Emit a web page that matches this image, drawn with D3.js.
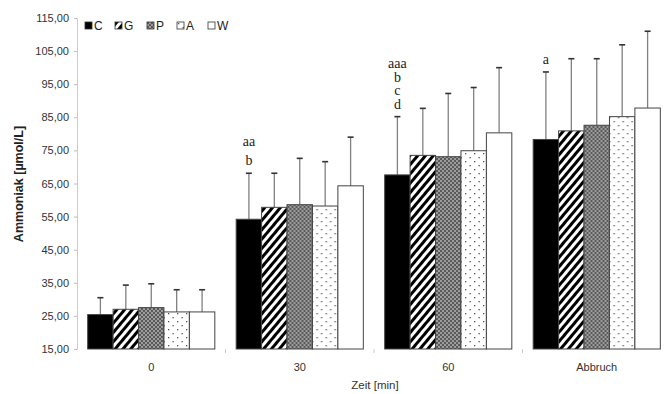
<!DOCTYPE html>
<html>
<head>
<meta charset="utf-8">
<script src="https://cdn.jsdelivr.net/npm/d3@7"></script>
<style>
  body { margin: 0; background: #fff; }
  svg { display: block; font-family: "Liberation Sans", Arial, sans-serif; }
</style>
</head>
<body>
<svg id="chart" width="669" height="394"></svg>
<script>
// data
var groups = ["0", "30", "60", "Abbruch"];
var series = ["C", "G", "P", "A", "W"];
var valC = [25.4, 54.2, 67.6, 78.3];
var valG = [27.0, 57.8, 73.5, 80.9];
var valP = [27.5, 58.6, 73.1, 82.6];
var valA = [26.2, 58.2, 74.9, 85.2];
var valW = [26.2, 64.3, 80.3, 87.8];
var errC = [30.5, 68.1, 85.2, 98.7];
var errG = [34.3, 68.1, 87.7, 102.7];
var errP = [34.7, 72.6, 92.2, 102.7];
var errA = [32.9, 71.6, 94.0, 106.9];
var errW = [32.9, 79.0, 100.0, 111.0];
var yTicks = [15, 25, 35, 45, 55, 65, 75, 85, 95, 105, 115];
// significance letters above the C bar
var notes = [[], ["aa", "b"], ["aaa", "b", "c", "d"], ["a"]];

var means = [valC, valG, valP, valA, valW];
var upper = [errC, errG, errP, errA, errW];

var svg = d3.select("#chart");
var defs = svg.append("defs");

// fill patterns
var stripes = defs.append("pattern").attr("id", "pat_G")
    .attr("patternUnits", "userSpaceOnUse")
    .attr("width", 6).attr("height", 6)
    .attr("patternTransform", "rotate(40)");
stripes.append("rect").attr("width", 6).attr("height", 6).attr("fill", "#fff");
stripes.append("rect").attr("width", 3).attr("height", 6).attr("fill", "#000");

var checker = defs.append("pattern").attr("id", "pat_P")
    .attr("patternUnits", "userSpaceOnUse")
    .attr("width", 4).attr("height", 4);
checker.append("rect").attr("width", 4).attr("height", 4).attr("fill", "#9c9c9c");
checker.append("rect").attr("width", 2).attr("height", 2).attr("fill", "#5a5a5a");
checker.append("rect").attr("x", 2).attr("y", 2).attr("width", 2).attr("height", 2).attr("fill", "#5a5a5a");

var dots = defs.append("pattern").attr("id", "pat_A")
    .attr("patternUnits", "userSpaceOnUse")
    .attr("width", 9).attr("height", 8);
dots.append("rect").attr("width", 9).attr("height", 8).attr("fill", "#fff");
dots.append("rect").attr("x", 1).attr("y", 1).attr("width", 1.3).attr("height", 1.3).attr("fill", "#555");
dots.append("rect").attr("x", 5.5).attr("y", 5).attr("width", 1.3).attr("height", 1.3).attr("fill", "#555");

var fills = {C: "#000", G: "url(#pat_G)", P: "url(#pat_P)", A: "url(#pat_A)", W: "#fff"};

var x0 = d3.scaleBand().domain(groups).range([77, 671]);
var x1 = d3.scaleBand().domain(series).range([0, x0.bandwidth()]).paddingOuter(0.42);
var y = d3.scaleLinear().domain([15, 115]).range([349, 18]);

var fmt = d3.formatLocale({decimal: ",", thousands: ".", grouping: [3], currency: ["", "€"]}).format(".2f");

// y axis
var yAxis = svg.append("g").attr("transform", "translate(77,0)")
    .call(d3.axisLeft(y).tickValues(yTicks).tickFormat(fmt).tickSize(3).tickPadding(5));
yAxis.select(".domain").attr("stroke", "#ccc");
yAxis.selectAll(".tick line").attr("stroke", "#bbb");
yAxis.selectAll("text").attr("fill", "#333").style("font-size", "11px");

// x group separators
svg.append("g").selectAll("line")
    .data(groups.slice(1))
    .join("line")
    .attr("x1", d => x0(d)).attr("x2", d => x0(d))
    .attr("y1", 349).attr("y2", 353)
    .attr("stroke", "#ccc");

svg.append("g").selectAll("text")
    .data(groups)
    .join("text")
    .attr("x", d => x0(d) + x0.bandwidth() / 2)
    .attr("y", 371)
    .attr("text-anchor", "middle")
    .attr("fill", "#333")
    .style("font-size", "11px")
    .text(d => d);

// bars
var groupG = svg.append("g").selectAll("g")
    .data(groups)
    .join("g")
    .attr("transform", d => "translate(" + x0(d) + ",0)");

groupG.each(function(g, gi) {
    var gg = d3.select(this);
    series.forEach(function(s, si) {
        gg.append("line")
            .attr("x1", x1(s) + x1.bandwidth() / 2).attr("x2", x1(s) + x1.bandwidth() / 2)
            .attr("y1", y(means[si][gi])).attr("y2", y(upper[si][gi]))
            .attr("stroke", "#808080").attr("stroke-width", 1.3);
        gg.append("line")
            .attr("x1", x1(s) + x1.bandwidth() / 2 - 3).attr("x2", x1(s) + x1.bandwidth() / 2 + 3)
            .attr("y1", y(upper[si][gi])).attr("y2", y(upper[si][gi]))
            .attr("stroke", "#333").attr("stroke-width", 1.6);
        gg.append("rect")
            .attr("x", x1(s)).attr("width", x1.bandwidth())
            .attr("y", y(means[si][gi])).attr("height", y(15) - y(means[si][gi]))
            .attr("fill", fills[s])
            .attr("stroke", "#444").attr("stroke-width", 1);
    });
    // annotation letters
    var cx = x1("C") + x1.bandwidth() / 2;
    var top = y(errC[gi]);
    var lines = notes[gi];
    lines.forEach(function(t, i) {
        var gap = gi == 1 ? 19.5 : 13.5;
        gg.append("text")
            .attr("x", cx).attr("y", top - 8 - (lines.length - 1 - i) * gap)
            .attr("text-anchor", "middle")
            .style("font-family", "'Liberation Serif', 'Times New Roman', serif")
            .style("font-size", "14px")
            .attr("fill", "#222")
            .text(t);
    });
});

// legend
var legX = [85, 115, 147, 177, 208];
var leg = svg.append("g").selectAll("g")
    .data(series)
    .join("g")
    .attr("transform", (d, i) => "translate(" + legX[i] + ",22)");
leg.append("rect").attr("width", 7).attr("height", 7)
    .attr("fill", d => fills[d]).attr("stroke", "#333").attr("stroke-width", 0.8);
leg.append("text").attr("x", 9).attr("y", 8)
    .style("font-size", "12px").attr("fill", "#222")
    .text(d => d);

// axis titles
svg.append("text")
    .attr("transform", "translate(23,184) rotate(-90)")
    .attr("text-anchor", "middle")
    .style("font-size", "12.5px").style("font-weight", "bold")
    .attr("fill", "#222")
    .text("Ammoniak [µmol/L]");

svg.append("text")
    .attr("x", 375).attr("y", 389)
    .attr("text-anchor", "middle")
    .style("font-size", "11.5px").attr("fill", "#333")
    .text("Zeit [min]");
</script>
</body>
</html>
